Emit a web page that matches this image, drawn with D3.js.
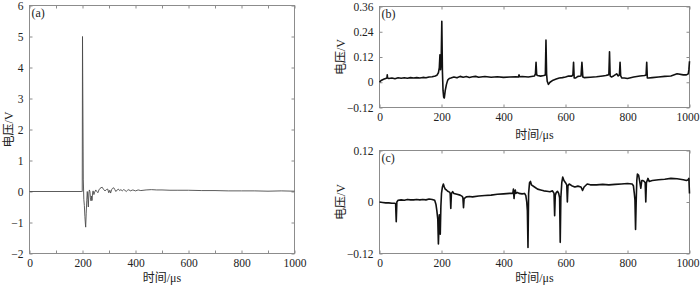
<!DOCTYPE html>
<html>
<head>
<meta charset="utf-8">
<script src="https://cdn.jsdelivr.net/npm/d3@7"></script>
<style>
  body { margin: 0; background: #fff; }
  svg { display: block; }
  .tick text { font-family: "Liberation Serif", "Noto Sans CJK SC", serif; font-size: 11.5px; fill: #222; }
  .title { font-family: "Liberation Serif", "Noto Sans CJK SC", serif; font-size: 12px; fill: #222; }
</style>
</head>
<body>
<div id="chart"></div>
<script>
// tick labels
const xTickLabels = [0, 200, 400, 600, 800, 1000];
const xMinorA = [100, 300, 500, 700, 900];
const yTicksA = [-2, -1, 0, 1, 2, 3, 4, 5, 6];
const yTicksB = [-0.12, 0, 0.12, 0.24, 0.36];
const yTicksC = [-0.12, 0, 0.12];

// (a) time (µs) and voltage (V)
const timeA = [0, 100, 195, 199, 200, 201, 203, 205, 207, 209, 211, 212, 214, 216, 218, 220, 222, 224, 226, 228, 230, 232, 234, 236, 238, 240, 243, 246, 250, 254, 258, 262, 266, 270, 274, 280, 285, 290, 295, 299, 303, 306, 310, 313, 318, 322, 326, 331, 335, 340, 345, 350, 355, 360, 365, 370, 375, 380, 390, 400, 410, 420, 440, 460, 480, 500, 530, 560, 600, 650, 700, 750, 800, 850, 900, 950, 1000];
const voltA = [0, 0, 0, 0, 5.0, 3.5, 0.4, -0.25, -0.45, -0.8, -1.05, -1.15, -0.7, -0.3, 0.0, -0.25, -0.5, -0.05, 0.05, 0.0, -0.2, -0.3, -0.15, -0.29, -0.05, 0.02, -0.1, -0.02, 0.05, 0.0, -0.04, 0.05, 0.1, 0.12, 0.14, 0.06, 0.02, 0.06, 0.08, -0.04, 0.04, -0.05, 0.06, 0.1, 0.12, 0.06, 0.0, 0.05, 0.08, 0.03, 0.06, 0.02, 0.06, 0.04, 0.0, 0.04, 0.06, 0.02, 0.05, 0.02, 0.05, 0.03, 0.05, 0.06, 0.05, 0.05, 0.04, 0.04, 0.04, 0.03, 0.03, 0.02, 0.02, 0.02, 0.01, 0.02, 0.01];

// (b)
const timeB = [0, 5, 10, 15, 20, 24, 25, 26, 30, 40, 50, 60, 70, 80, 90, 100, 110, 120, 130, 140, 150, 160, 170, 180, 185, 190, 193, 195, 197, 199, 201, 203, 205, 207, 209, 212, 216, 220, 225, 230, 240, 250, 260, 270, 280, 290, 300, 310, 320, 340, 360, 380, 400, 420, 440, 448, 450, 452, 460, 480, 500, 503, 505, 507, 510, 520, 530, 535, 537, 539, 541, 545, 550, 560, 570, 580, 590, 600, 610, 620, 624, 626, 628, 632, 640, 650, 653, 656, 660, 680, 700, 720, 730, 738, 740, 742, 744, 748, 755, 765, 770, 774, 776, 778, 782, 790, 800, 820, 840, 855, 860, 862, 864, 868, 880, 900, 920, 940, 960, 980, 990, 996, 998, 1000];
const voltB = [0.0, 0.008, 0.012, 0.015, 0.018, 0.02, 0.035, 0.02, 0.018, 0.02, 0.017, 0.021, 0.019, 0.021, 0.019, 0.022, 0.02, 0.022, 0.02, 0.023, 0.021, 0.025, 0.026, 0.03, 0.033, 0.045, 0.07, 0.13, 0.06, 0.1, 0.29, 0.05, -0.04, -0.07, -0.075, -0.04, -0.01, 0.01, 0.018, 0.02, 0.025, 0.021, 0.028, 0.024, 0.027, 0.023, 0.026, 0.028, 0.024, 0.027, 0.024, 0.026, 0.023, 0.025, 0.026, 0.025, 0.035, 0.026, 0.027, 0.025, 0.03, 0.04, 0.095, 0.035, 0.032, 0.029, 0.032, 0.035, 0.2, 0.04, 0.005, -0.01, 0.0, 0.01, 0.015, 0.02, 0.022, 0.025, 0.03, 0.029, 0.035, 0.095, 0.02, 0.02, 0.028, 0.03, 0.095, 0.025, 0.022, 0.024, 0.026, 0.03, 0.032, 0.035, 0.04, 0.145, 0.03, 0.025, 0.03, 0.04, 0.03, 0.035, 0.095, 0.03, 0.02, 0.02, 0.018, 0.025, 0.03, 0.032, 0.035, 0.095, 0.02, 0.02, 0.022, 0.025, 0.028, 0.03, 0.04, 0.035, 0.035, 0.04, 0.06, 0.1];

// (c)
const timeC = [0, 10, 20, 30, 40, 50, 52, 54, 56, 60, 70, 80, 90, 100, 110, 120, 130, 140, 150, 160, 170, 178, 182, 185, 188, 190, 193, 196, 198, 200, 203, 206, 209, 212, 216, 220, 226, 228, 230, 232, 236, 240, 250, 260, 267, 269, 271, 273, 280, 290, 300, 320, 340, 360, 380, 400, 420, 430, 432, 434, 436, 438, 440, 445, 450, 460, 468, 472, 475, 477, 479, 481, 484, 487, 490, 500, 510, 520, 530, 540, 550, 558, 563, 565, 567, 570, 574, 578, 581, 583, 585, 588, 591, 595, 600, 604, 606, 608, 612, 620, 630, 640, 650, 655, 660, 670, 680, 700, 720, 740, 760, 780, 800, 815, 819, 822, 824, 826, 828, 830, 832, 836, 840, 843, 846, 850, 854, 857, 859, 861, 866, 870, 880, 900, 920, 940, 960, 980, 990, 996, 998, 1000];
const voltC = [0.0, -0.001, -0.002, -0.002, -0.003, -0.003, -0.004, -0.046, 0.0, 0.004, 0.005, 0.004, 0.006, 0.005, 0.005, 0.006, 0.005, 0.006, 0.005, 0.007, 0.006, 0.004, -0.005, -0.02, -0.04, -0.098, -0.03, -0.075, -0.01, 0.02, 0.035, 0.042, 0.035, 0.03, 0.028, 0.025, 0.023, 0.02, -0.015, 0.02, 0.024, 0.02, 0.018, 0.016, 0.013, 0.01, -0.013, 0.008, 0.012, 0.013, 0.012, 0.014, 0.015, 0.016, 0.018, 0.019, 0.02, 0.02, 0.03, 0.008, 0.025, 0.028, 0.02, 0.022, 0.02, 0.019, 0.02, 0.015, 0.0, -0.02, -0.106, 0.02, 0.045, 0.048, 0.04, 0.035, 0.03, 0.028, 0.026, 0.025, 0.024, 0.026, 0.02, -0.032, 0.015, 0.022, 0.025, 0.02, 0.01, -0.094, 0.01, 0.045, 0.058, 0.05, 0.045, 0.04, 0.0, 0.038, 0.042, 0.038, 0.035, 0.037, 0.035, 0.027, 0.035, 0.042, 0.04, 0.04, 0.041, 0.04, 0.041, 0.042, 0.043, 0.042, 0.038, 0.02, 0.005, -0.064, 0.0, 0.05, 0.065, 0.062, 0.045, 0.032, 0.05, 0.05, 0.048, 0.045, 0.0, 0.045, 0.055, 0.048, 0.05, 0.052, 0.053, 0.055, 0.054, 0.052, 0.05, 0.052, 0.055, 0.02];

const svg = d3.select('#chart').append('svg')
    .attr('width', 700)
    .attr('height', 286);

function panel(opts) {
    const x = d3.scaleLinear([0, 1000], [opts.left, opts.right]);
    const y = d3.scaleLinear(opts.yDomain, [opts.bottom, opts.top]);
    const g = svg.append('g');

    // frame
    g.append('rect')
        .attr('x', opts.left).attr('y', opts.top)
        .attr('width', opts.right - opts.left)
        .attr('height', opts.bottom - opts.top)
        .attr('fill', 'none').attr('stroke', '#8c8c8c');

    // axes, ticks pointing inside on all four sides
    const xb = g.append('g').attr('transform', `translate(0,${opts.bottom})`)
        .call(d3.axisBottom(x).tickValues(opts.xTicks).tickSize(-3).tickPadding(5)
            .tickFormat(d => xTickLabels.includes(d) ? d : ''));
    const xt = g.append('g').attr('transform', `translate(0,${opts.top})`)
        .call(d3.axisTop(x).tickValues(opts.xTicks).tickSize(-3).tickFormat(''));
    const yl = g.append('g').attr('transform', `translate(${opts.left},0)`)
        .call(d3.axisLeft(y).tickValues(opts.yTicks).tickSize(-3).tickPadding(6).tickFormat(opts.fmt));
    const yr = g.append('g').attr('transform', `translate(${opts.right},0)`)
        .call(d3.axisRight(y).tickValues(opts.yTicks).tickSize(-3).tickFormat(''));
    [xb, xt, yl, yr].forEach(a => {
        a.select('.domain').remove();
        a.selectAll('.tick line').attr('stroke', '#8c8c8c');
    });
    // last label would run past the page edge
    if (opts.right > 680) xb.selectAll('.tick text').filter(d => d === 1000).attr('dx', '-2');

    // signal
    const line = d3.line()
        .x((d, i) => x(opts.t[i]))
        .y(d => y(d));
    g.append('path')
        .datum(opts.v)
        .attr('d', line)
        .attr('fill', 'none')
        .attr('stroke', opts.color)
        .attr('stroke-width', opts.width)
        .attr('stroke-linejoin', 'round');

    // titles
    g.append('text').attr('class', 'title')
        .attr('x', opts.left + 2).attr('y', opts.top + 11)
        .text(opts.tag);
    g.append('text').attr('class', 'title')
        .attr('x', (opts.left + opts.right) / 2).attr('y', opts.xTitleY)
        .attr('text-anchor', 'middle')
        .text('时间/μs');
    g.append('text').attr('class', 'title')
        .attr('transform', `translate(${opts.yTitleX},${(opts.top + opts.bottom) / 2}) rotate(-90)`)
        .attr('text-anchor', 'middle')
        .attr('dy', '0.35em')
        .text('电压/V');
}

panel({
    left: 29.5, right: 294.5, top: 5.5, bottom: 253.5,
    yDomain: [-2, 6], yTicks: yTicksA, fmt: d3.format('d'),
    xTicks: xTickLabels.concat(xMinorA).sort((a, b) => a - b),
    t: timeA, v: voltA, color: '#4a4a4a', width: 0.9,
    tag: '(a)', xTitleY: 282, yTitleX: 9
});
panel({
    left: 379.5, right: 689.5, top: 6.5, bottom: 107.5,
    yDomain: [-0.12, 0.36], yTicks: yTicksB, fmt: d => d === 0 ? '0' : d3.format('.2f')(d),
    xTicks: xTickLabels,
    t: timeB, v: voltB, color: '#111', width: 1.6,
    tag: '(b)', xTitleY: 139, yTitleX: 341
});
panel({
    left: 379.5, right: 689.5, top: 150.5, bottom: 253.5,
    yDomain: [-0.12, 0.12], yTicks: yTicksC, fmt: d => d === 0 ? '0' : d3.format('.2f')(d),
    xTicks: xTickLabels,
    t: timeC, v: voltC, color: '#111', width: 1.6,
    tag: '(c)', xTitleY: 282, yTitleX: 341
});
</script>
</body>
</html>
